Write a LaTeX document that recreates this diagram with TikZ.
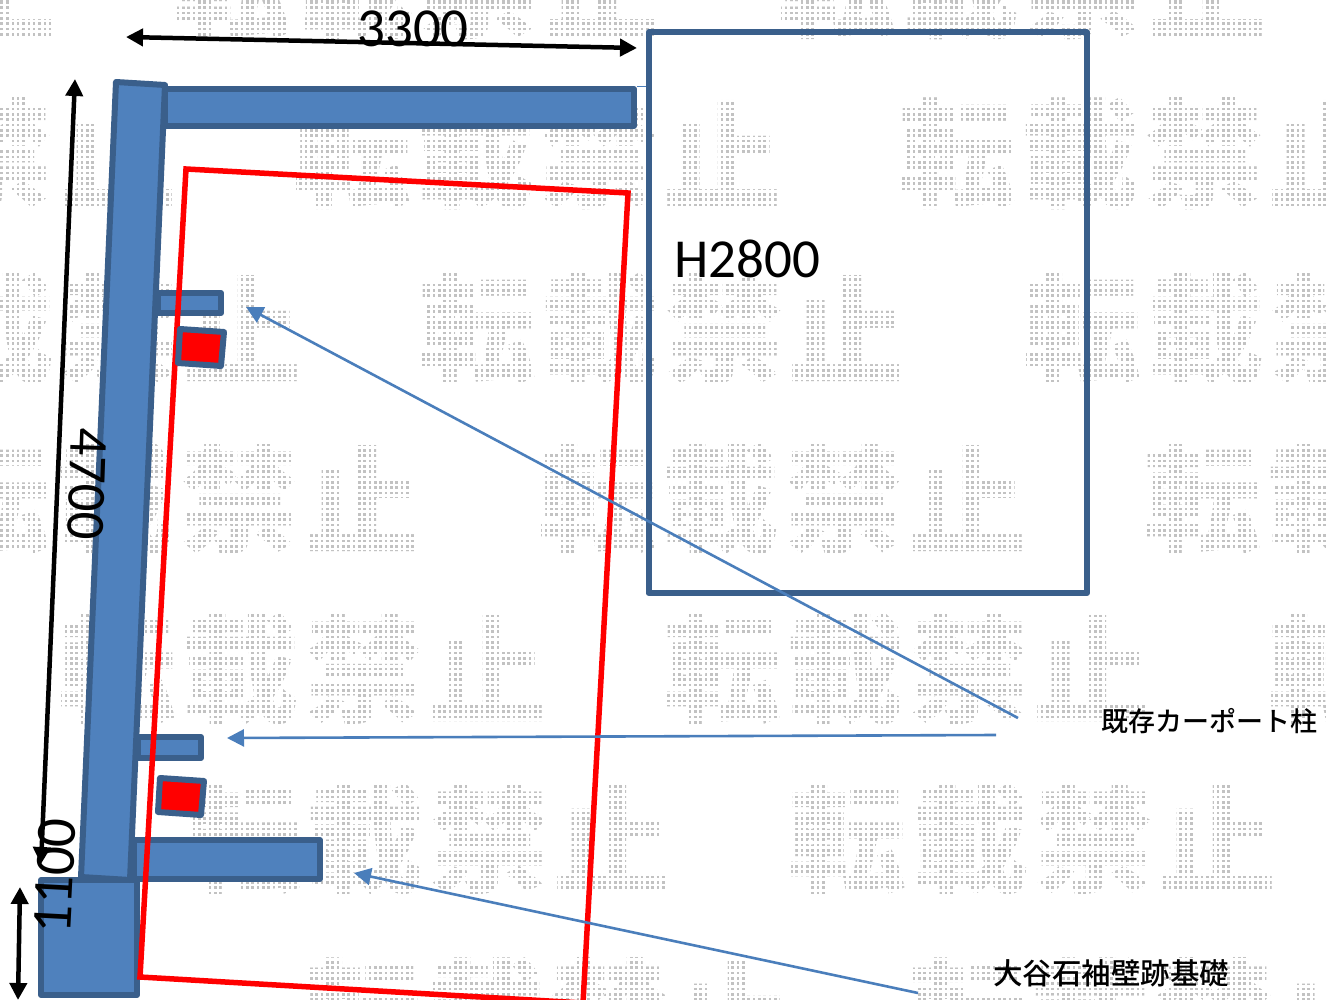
\documentclass[tikz,border=0pt]{standalone}
\usepackage{fontspec}
\setmainfont{Carlito}
\newfontfamily\cjk{Noto Sans CJK JP Medium}
\newfontfamily\cjkb{Noto Sans CJK JP Black}
\usetikzlibrary{arrows.meta}
\definecolor{blueedge}{HTML}{3A5F8B}
\definecolor{bluefill}{HTML}{4F81BD}
\definecolor{bluearrow}{HTML}{4A7EBB}
\definecolor{wmgray}{HTML}{C2C2C2}
\tikzset{
  x=1pt,y=-1pt,
  member/.style={draw=blueedge,fill=bluefill,line width=6pt,line join=round},
  redbox/.style={draw=blueedge,fill=red,line width=6pt,line join=round},
  outline/.style={draw=red,line width=5.5pt,line join=miter},
  roomframe/.style={draw=blueedge,line width=6pt,line join=round},
  dimarrow/.style={draw=black,line width=4.5pt,{Triangle[length=17pt,width=17pt]}-{Triangle[length=17pt,width=17pt]}},
  callout/.style={draw=bluearrow,line width=2.6pt,-{Triangle[length=17pt,width=17pt]}},
  dimtext/.style={font=\fontsize{55}{55}\selectfont,inner sep=0pt,text=black},
  labeltext/.style={font=\cjk\fontsize{27}{27}\selectfont,inner sep=0pt,text=black},
  wm/.style={font=\cjkb\fontsize{118}{118}\selectfont,inner sep=0pt,text=wmgray,anchor=center},
}
\begin{document}
\begin{tikzpicture}
\useasboundingbox (0,0) rectangle (1328,1000);
\clip (0,0) rectangle (1328,1000);
% watermark rows
\foreach \ry/\sx in {-16/-425,154/-305,329/-180,499/-60,669/65,839/190,1014/310}{
  \foreach \g in {0,1,2}{
    \pgfmathsetmacro{\gx}{\sx+605*\g}
    \foreach \ch [count=\i from 0] in {転,載,禁,止}{
      \node[wm] (w\ry\g\i) at ({\gx+52+123.5*\i},\ry) {\ch};
    }
  }
}
% dot screen over the watermark
\foreach \k in {0,...,250}{
  \draw[white,line width=2.8pt] ({\k*5.333+4.77},0) -- ({\k*5.333+4.77},1000);
}
\foreach \k in {0,...,188}{
  \draw[white,line width=2.8pt] (0,{\k*5.333+5.07}) -- (1328,{\k*5.333+5.07});
}
% structure
\draw[member] (165,89) -- (634,89) -- (634,126) -- (165,126) -- cycle;
\draw[member] (158,293) -- (221,293) -- (221,313) -- (158,313) -- cycle;
\draw[member] (138,737) -- (201,737) -- (201,758) -- (138,758) -- cycle;
\draw[member] (134,840) -- (320,840) -- (320,879) -- (134,879) -- cycle;
\draw[member] (41,880) -- (137,880) -- (137,995) -- (41,995) -- cycle;
\draw[member] (116,82) -- (165,85) -- (130,880) -- (81,877) -- cycle;
\draw[outline] (186,169) -- (628,193) -- (583,1003) -- (140,977) -- cycle;
\draw[redbox] (180,329) -- (224,332) -- (221,366) -- (178,363) -- cycle;
\draw[redbox] (160,778) -- (204,781) -- (201,815) -- (158,812) -- cycle;
\draw[roomframe] (648.5,32.5) -- (1087,32.5) -- (1087,593) -- (648.5,593) -- cycle;
\draw[bluearrow,line width=1pt] (637,87) -- (646,87);
% dimensions
\coordinate (d1a) at (126,37); \coordinate (d1b) at (637,48);
\coordinate (d2a) at (75,79);  \coordinate (d2b) at (41,864);
\coordinate (d3a) at (20,887); \coordinate (d3b) at (18,1000);
\draw[dimarrow] (d1a) -- (d1b);
\draw[dimarrow] (d2a) -- (d2b);
\draw[dimarrow] (d3a) -- (d3b);
\node[dimtext] (t3300) at (413,29) {3300};
\node[dimtext,rotate=-92] (t4700) at (87,484) {4700};
\node[dimtext,rotate=87,font=\fontsize{57}{57}\selectfont] (t1100) at (55,876) {1100};
\node[dimtext] (th) at (747,259) {H2800};
% labels and callouts
\node[labeltext] (lab1) at (1209,721) {既存カーポート柱};
\node[labeltext,font=\cjk\fontsize{29.5}{30}\selectfont] (lab2) at (1111,973) {大谷石袖壁跡基礎};
\coordinate (c1a) at (1018,718); \coordinate (c1b) at (246,307);
\coordinate (c2a) at (996,735);  \coordinate (c2b) at (227,738);
\coordinate (c3a) at (918,993);  \coordinate (c3b) at (354,873);
\draw[callout] (c1a) -- (c1b);
\draw[callout] (c2a) -- (c2b);
\draw[callout] (c3a) -- (c3b);
\end{tikzpicture}
\end{document}
